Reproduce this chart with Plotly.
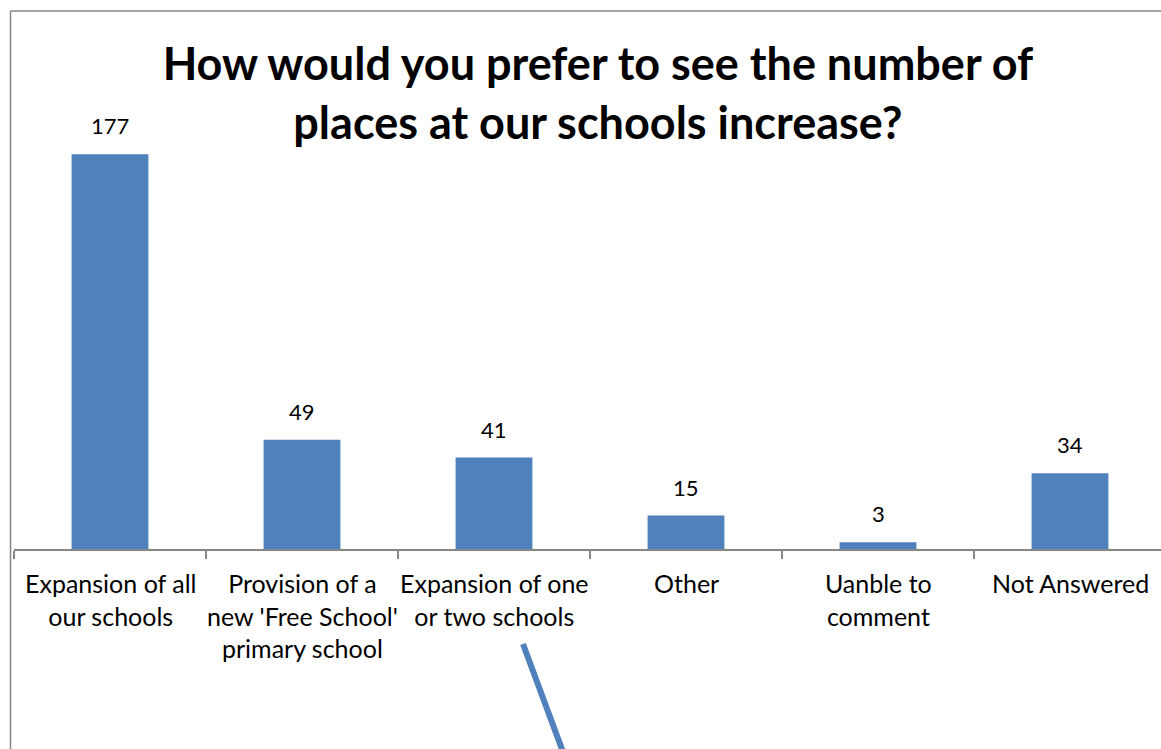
import plotly.graph_objects as go

# Survey responses
categories = [
    "Expansion of all<br>our schools",
    "Provision of a<br>new 'Free School'<br>primary school",
    "Expansion of one<br>or two schools",
    "Other",
    "Uanble to<br>comment",
    "Not Answered",
]
responses = [177, 49, 41, 15, 3, 34]

W, H = 1161, 749
ML, MB, MT = 14, 200, 103
plot_w = W - ML
plot_h = H - MB - MT
cat_px = 192  # horizontal space per category

BLUE = "#4F81BD"
GREY = "#868686"
FONT = "Lato"

fig = go.Figure(
    go.Bar(
        x=categories,
        y=responses,
        width=0.4,
        marker=dict(color=BLUE, line=dict(width=0)),
        hoverinfo="skip",
    )
)

# value labels above each bar
for c, v in zip(categories, responses):
    fig.add_annotation(
        x=c, y=v, text=str(v), showarrow=False,
        yanchor="bottom", yshift=13,
        font=dict(family=FONT, size=22, color="#000000"),
    )

# category labels under the axis
for c in categories:
    fig.add_annotation(
        x=c, y=0, text=c, showarrow=False,
        yanchor="top", yshift=-17,
        font=dict(family=FONT, size=25, color="#000000"),
    )

def px_x(p):
    return (p - ML) / plot_w

def px_y(p):
    return (H - MB - p) / plot_h

# chart frame (left and top edges)
fig.add_shape(type="line", xref="paper", yref="paper",
              x0=px_x(10.5), y0=px_y(11), x1=px_x(10.5), y1=px_y(749),
              line=dict(color=GREY, width=1.5))
fig.add_shape(type="line", xref="paper", yref="paper",
              x0=px_x(10.5), y0=px_y(11), x1=px_x(1161), y1=px_y(11),
              line=dict(color=GREY, width=1.5))

# drawn pointer stroke
fig.add_shape(type="line", xref="paper", yref="paper",
              x0=px_x(523), y0=px_y(644), x1=px_x(563), y1=px_y(752),
              line=dict(color=BLUE, width=6))

fig.update_layout(
    width=W, height=H,
    margin=dict(l=ML, r=0, t=MT, b=MB, pad=0),
    paper_bgcolor="white", plot_bgcolor="white",
    showlegend=False,
    title=dict(
        text="How would you prefer to see the number of<br>places at our schools increase?",
        x=591 / W, xanchor="center", xref="paper",
        y=1 - 80 / H, yanchor="middle", yref="container",
        font=dict(family=FONT, size=45, color="#000000", weight="bold"),
    ),
    xaxis=dict(
        type="category",
        range=[-0.5, plot_w / cat_px - 0.5],
        showticklabels=False,
        tickson="boundaries", ticks="outside", ticklen=8,
        tickcolor=GREY, tickwidth=1.5,
        showline=True, linecolor=GREY, linewidth=1.5,
        showgrid=False, zeroline=False, fixedrange=True,
    ),
    yaxis=dict(
        range=[0, 200], visible=False, showgrid=False, zeroline=False,
    ),
)

fig.write_html("out.html")
